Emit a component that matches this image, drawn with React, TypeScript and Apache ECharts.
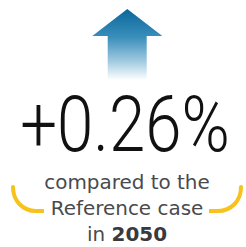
import React, { useEffect, useRef } from "react";
import * as echarts from "echarts";

const changeValues = [0.26];
const years = [2050];
const captionLines = ["compared to the", "Reference case", "in "];

export default function App() {
  const ref = useRef<HTMLDivElement>(null);
  useEffect(() => {
    const chart = echarts.init(ref.current!, null, { renderer: "svg" });
    const v = changeValues[0];
    const label = (v >= 0 ? "+" : "") + v.toFixed(2) + "%";
    const yellow = "#F6C21B";
    const gray = "#4a4a4d";
    const capFont = '19px "DejaVu Sans"';
    chart.setOption({
      animation: false,
      graphic: [
        {
          type: "polygon",
          shape: {
            points: [
              [127.3, 9],
              [162.3, 36],
              [146.7, 36],
              [146.7, 80],
              [107.7, 80],
              [107.7, 36],
              [92.3, 36],
            ],
          },
          style: {
            fill: {
              type: "linear",
              x: 0,
              y: 0,
              x2: 0,
              y2: 1,
              colorStops: [
                { offset: 0, color: "#0a679b" },
                { offset: 0.4, color: "#3a8fbc" },
                { offset: 0.75, color: "#a5cde2" },
                { offset: 1, color: "#ffffff" },
              ],
            },
          },
        },
        {
          type: "text",
          x: 125,
          y: 125,
          scaleX: 0.86,
          scaleY: 1.02,
          style: {
            text: label,
            font: '300 76px Roboto',
            fill: "#111111",
            align: "center",
            verticalAlign: "middle",
          },
        },
        {
          type: "text",
          x: 127,
          y: 183,
          scaleX: 1.05,
          style: {
            text: captionLines[0],
            font: capFont,
            fill: gray,
            align: "center",
            verticalAlign: "middle",
          },
        },
        {
          type: "text",
          x: 127,
          y: 209,
          scaleX: 1.05,
          style: {
            text: captionLines[1],
            font: capFont,
            fill: gray,
            align: "center",
            verticalAlign: "middle",
          },
        },
        {
          type: "text",
          x: 127,
          y: 235,
          scaleX: 1.05,
          style: {
            text: "{n|" + captionLines[2] + "}{b|" + years[0] + "}",
            align: "center",
            verticalAlign: "middle",
            rich: {
              n: { font: capFont, fill: gray, color: gray },
              b: { font: 'bold 19px "DejaVu Sans"', fill: "#3a3a3d", color: "#3a3a3d" },
            },
          },
        },
        {
          type: "bezierCurve",
          shape: { x1: 13, y1: 187, cpx1: 13, cpy1: 201, cpx2: 23, cpy2: 211, x2: 36, y2: 211 },
          style: { stroke: yellow, lineWidth: 4, fill: "none", lineCap: "round" },
        },
        {
          type: "line",
          shape: { x1: 35, y1: 211, x2: 44, y2: 211 },
          style: { stroke: yellow, lineWidth: 4 },
        },
        {
          type: "bezierCurve",
          shape: { x1: 241, y1: 187, cpx1: 241, cpy1: 201, cpx2: 231, cpy2: 211, x2: 218, y2: 211 },
          style: { stroke: yellow, lineWidth: 4, fill: "none", lineCap: "round" },
        },
        {
          type: "line",
          shape: { x1: 219, y1: 211, x2: 209, y2: 211 },
          style: { stroke: yellow, lineWidth: 4 },
        },
      ],
    });
    return () => chart.dispose();
  }, []);
  return <div ref={ref} style={{ width: 246, height: 247, position: "absolute", left: 0, top: 0 }} />;
}
